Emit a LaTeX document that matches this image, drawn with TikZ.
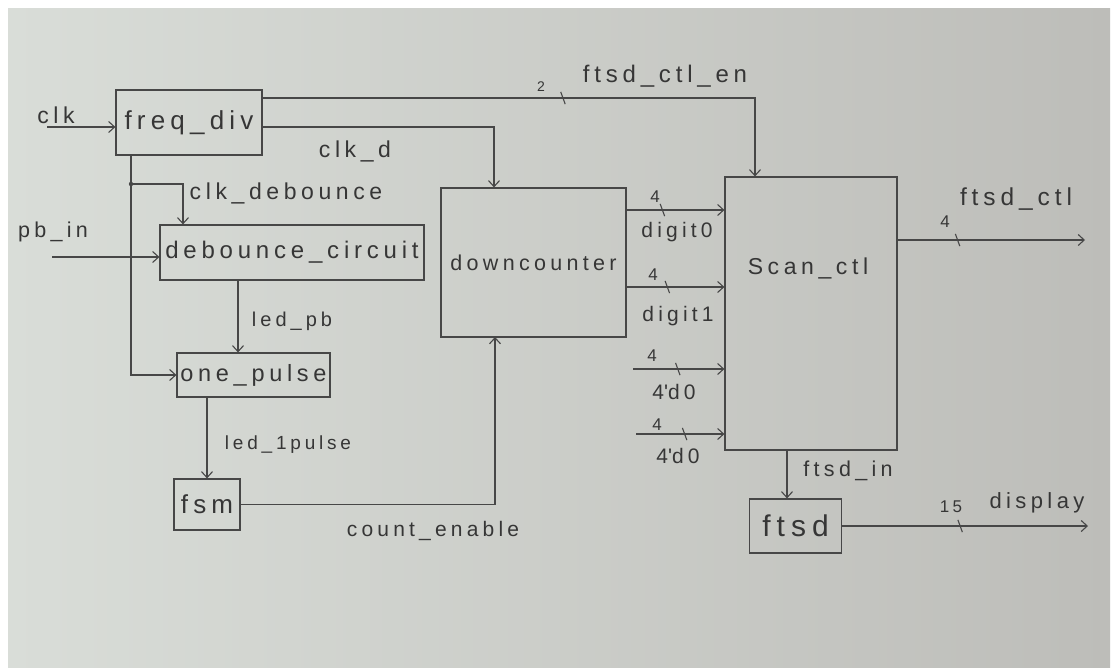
\documentclass[tikz,border=0pt]{standalone}
\usepackage{fontspec}
\setmainfont{Liberation Sans}
\newfontfamily\hand{Liberation Sans}[LetterSpace=20]
\usetikzlibrary{arrows.meta,calc}
\definecolor{ink}{HTML}{363636}
\definecolor{wirec}{HTML}{474747}
\definecolor{paperL}{HTML}{D9DDD8}
\definecolor{paperR}{HTML}{BDBDB9}
\begin{document}
\begin{tikzpicture}[x=1pt,y=-1pt,
  hs/.style={font=\hand\fontsize{#1}{#1}\selectfont},
  wire/.style={draw=wirec, line width=1.1pt},
  arr/.style={wire, -{Straight Barb[length=6pt,width=11pt,line width=1.1pt]}},
  block/.style={draw=wirec, line width=1.2pt, text=ink, inner sep=0pt},
  lbl/.style={text=ink, inner sep=0pt},
  bustick/.style={draw=wirec, line width=1.1pt, inner sep=0pt, minimum width=0pt, minimum height=13pt, rotate=20}]
\useasboundingbox (0,0) rectangle (1116,667);
\fill[white] (0,0) rectangle (1116,667);
\shade[left color=paperL, right color=paperR] (8,8) rectangle (1110,667);

% blocks
\node[block, minimum width=146pt, minimum height=65pt, hs=26] (freq) at (189,122.5) {freq\_div};
\node[block, minimum width=264pt, minimum height=55pt, hs=24] (deb) at (292,252.5) {debounce\_circuit};
\node[block, minimum width=153pt, minimum height=44pt, hs=23.5] (one) at (253.5,375) {one\_pulse};
\node[block, minimum width=66pt, minimum height=51pt, hs=26] (fsm) at (207,504.5) {fsm};
\node[block, minimum width=185pt, minimum height=149pt, hs=21.5] (down) at (533.5,262.5) {downcounter};
\node[block, minimum width=172pt, minimum height=273pt] (scan) at (811,313.5) {};
\node[lbl, hs=23] (scanlbl) at (808,268) {Scan\_ctl};
\node[block, minimum width=92pt, minimum height=54pt, hs=30] (ftsd) at (795.5,526) {ftsd};

% coordinates
\coordinate (clkin) at (47,127);
\coordinate (pbin) at (52,257);
\coordinate (jn) at (131,184);
\coordinate (enx) at (755,98);
\coordinate (clkdx) at (494,127);
\coordinate (debx) at (183,184);
\coordinate (ledpb) at (238,280);
\coordinate (cex) at (495,337);
\coordinate (d0s) at (626,210);
\coordinate (d1s) at (626,287);
\coordinate (z0s) at (633,369);
\coordinate (z1s) at (636,434);
\coordinate (ctlout) at (1085,240);
\coordinate (dispout) at (1088,526);
\coordinate (fin) at (787,450);

% connectors
\draw[arr] (clkin) -- (clkin -| freq.west);
\draw[arr] (freq.east |- enx) -- node[bustick,pos=0.61]{} (enx) -- (enx |- scan.north);
\draw[arr] (freq.east |- clkdx) -- (clkdx) -- (clkdx |- down.north);
\draw[wire] (jn |- freq.south) -- (jn);
\draw[arr] (jn) -- (jn |- one.west) -- (one.west);
\fill[wirec] (jn) circle (2.2pt);
\draw[arr] (jn) -- (debx) -- (debx |- deb.north);
\draw[arr] (pbin) -- (pbin -| deb.west);
\draw[arr] (ledpb) -- (ledpb |- one.north);
\draw[arr] (one.south -| fsm.north) -- (fsm.north);
\draw[arr] (fsm.east) -| (cex);
\draw[arr] (d0s) -- node[bustick,pos=.37]{} (d0s -| scan.west);
\draw[arr] (d1s) -- node[bustick,pos=.42]{} (d1s -| scan.west);
\draw[arr] (z0s) -- node[bustick,pos=.49]{} (z0s -| scan.west);
\draw[arr] (z1s) -- node[bustick,pos=.55]{} (z1s -| scan.west);
\draw[arr] (scan.east |- ctlout) -- node[bustick,pos=.32]{} (ctlout);
\draw[arr] (fin) -- (fin |- ftsd.north);
\draw[arr] (ftsd.east) -- node[bustick,pos=.48]{} (ftsd.east -| dispout);

% labels
\node[lbl,hs=23] (tclk) at (56,115) {clk};
\node[lbl,hs=23] (tclkd) at (355,151) {clk\_d};
\node[lbl,hs=24] (ten) at (665,76) {ftsd\_ctl\_en};
\node[lbl,hs=14] (t2) at (541,87) {2};
\node[lbl,hs=23] (tdeb) at (286,193) {clk\_debounce};
\node[lbl,hs=21.5] (tpb) at (53,232) {pb\_in};
\node[lbl,hs=20] (tledpb) at (292,321) {led\_pb};
\node[lbl,hs=19] (tled1) at (288,445) {led\_1pulse};
\node[lbl,hs=21] (tce) at (433,531) {count\_enable};
\node[lbl,hs=21] (td0) at (677,232) {digit0};
\node[lbl,hs=17] (n0) at (655,197) {4};
\node[lbl,hs=21] (td1) at (678,316) {digit1};
\node[lbl,hs=17] (n1) at (653,275) {4};
\node[lbl,hs=21] (tz0) at (674,392) {4{\textquotesingle}d0};
\node[lbl,hs=17] (n2) at (652,356) {4};
\node[lbl,hs=21] (tz1) at (678,456) {4{\textquotesingle}d0};
\node[lbl,hs=17] (n3) at (657,425) {4};
\node[lbl,hs=17] (n4) at (945,222) {4};
\node[lbl,hs=24.5] (tctl) at (1016,199) {ftsd\_ctl};
\node[lbl,hs=21.5] (tin) at (848,471) {ftsd\_in};
\node[lbl,hs=17] (n15) at (951,507) {15};
\node[lbl,hs=22] (tdisp) at (1037,503) {display};
\end{tikzpicture}
\end{document}
